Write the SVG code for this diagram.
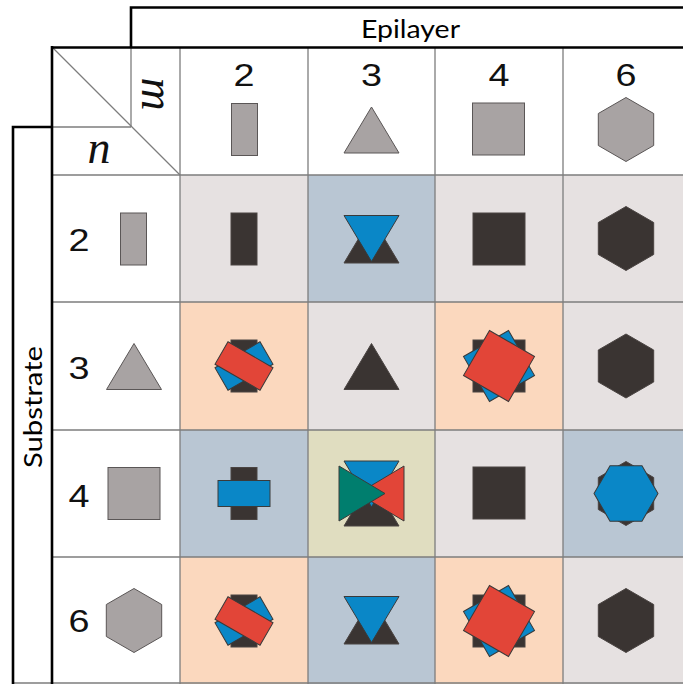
<svg xmlns="http://www.w3.org/2000/svg" xmlns:xlink="http://www.w3.org/1999/xlink" width="683" height="684" viewBox="0 0 683 684">
<style>
.thin{stroke:#7d7d7d;stroke-width:1.3;fill:none}
.thick{stroke:#000;stroke-width:2.6;fill:none}
.g{fill:#a8a3a3;stroke:#5a5656;stroke-width:1}
.d{fill:#3a3432;stroke:#4a4442;stroke-width:1}
.b{fill:#0a87c7;stroke:#3a3a3a;stroke-width:1}
.r{fill:#e24538;stroke:#3a3a3a;stroke-width:1}
.gr{fill:#007e6e;stroke:#3a3a3a;stroke-width:1}
.num{font-family:"Liberation Sans",Arial,sans-serif;font-size:32px;fill:#111;text-anchor:middle}
.lbl{font-family:Lato,"Open Sans",sans-serif;font-size:25px;fill:#000;text-anchor:middle}
.it{font-family:"Liberation Serif","Times New Roman",serif;font-style:italic;font-size:46px;fill:#111;text-anchor:middle}
.cg{fill:#e6e1e1}.cb{fill:#b9c6d3}.cp{fill:#fbd8be}.co{fill:#e0ddc0}
</style>
<defs>
<rect id="R" x="-13" y="-26" width="26" height="52"/>
<polygon id="T" points="-27.5,23 27.5,23 0,-23"/>
<rect id="S" x="-26" y="-26" width="52" height="52"/>
<polygon id="H" points="0,-32 27.7,-16 27.7,16 0,32 -27.7,16 -27.7,-16"/>
</defs>
<rect width="683" height="684" fill="#fff"/>

<g id="cell-backgrounds">
<rect class="cg" x="180" y="175" width="128" height="127"/>
<rect class="cb" x="308" y="175" width="127" height="127"/>
<rect class="cg" x="435" y="175" width="128" height="127"/>
<rect class="cg" x="563" y="175" width="120" height="127"/>
<rect class="cp" x="180" y="302" width="128" height="128"/>
<rect class="cg" x="308" y="302" width="127" height="128"/>
<rect class="cp" x="435" y="302" width="128" height="128"/>
<rect class="cg" x="563" y="302" width="120" height="128"/>
<rect class="cb" x="180" y="430" width="128" height="127"/>
<rect class="co" x="308" y="430" width="127" height="127"/>
<rect class="cg" x="435" y="430" width="128" height="127"/>
<rect class="cb" x="563" y="430" width="120" height="127"/>
<rect class="cp" x="180" y="557" width="128" height="127"/>
<rect class="cb" x="308" y="557" width="127" height="127"/>
<rect class="cp" x="435" y="557" width="128" height="127"/>
<rect class="cg" x="563" y="557" width="120" height="127"/>
</g>

<g id="connectors">
<path class="thin" d="M131,47 V127 M180,47 V684 M308,47 V684 M435,47 V684 M563,47 V684"/>
<path class="thin" d="M52,127 H131 M52,175 H683 M52,302 H683 M52,430 H683 M52,557 H683 M13,683 H683"/>
<path class="thin" d="M52,47 L180,175"/>
<path class="thick" d="M131,47 V7.5 H690"/>
<path class="thick" d="M52,47.5 H690 M52,46 V684"/>
<path class="thick" d="M52,127 H13 V684"/>
</g>

<g id="axis-epilayer"><text class="lbl" x="410.5" y="38" textLength="99" lengthAdjust="spacingAndGlyphs">Epilayer</text></g>
<g id="axis-substrate"><text class="lbl" transform="translate(42,407) rotate(-90)" x="0" y="0" textLength="122" lengthAdjust="spacingAndGlyphs">Substrate</text></g>
<g id="corner">
<text class="it" transform="translate(142,94) rotate(90)" x="0" y="0">m</text>
<text class="it" x="99" y="163">n</text>
</g>

<g id="head-2"><text class="num" x="244" y="86" textLength="21" lengthAdjust="spacingAndGlyphs">2</text><use xlink:href="#R" class="g" x="244.5" y="129.5"/></g>
<g id="head-3"><text class="num" x="371.5" y="86" textLength="21" lengthAdjust="spacingAndGlyphs">3</text><use xlink:href="#T" class="g" x="371.5" y="130"/></g>
<g id="head-4"><text class="num" x="499" y="86" textLength="21" lengthAdjust="spacingAndGlyphs">4</text><use xlink:href="#S" class="g" x="498.5" y="129"/></g>
<g id="head-6"><text class="num" x="626" y="86" textLength="21" lengthAdjust="spacingAndGlyphs">6</text><use xlink:href="#H" class="g" x="626" y="129.5"/></g>

<g id="row-2"><text class="num" x="79" y="251" textLength="21" lengthAdjust="spacingAndGlyphs">2</text><use xlink:href="#R" class="g" x="133.5" y="239"/></g>
<g id="row-3"><text class="num" x="79" y="379" textLength="21" lengthAdjust="spacingAndGlyphs">3</text><use xlink:href="#T" class="g" x="134" y="366.5"/></g>
<g id="row-4"><text class="num" x="79" y="507" textLength="21" lengthAdjust="spacingAndGlyphs">4</text><use xlink:href="#S" class="g" x="134" y="493.5"/></g>
<g id="row-6"><text class="num" x="79" y="632" textLength="21" lengthAdjust="spacingAndGlyphs">6</text><use xlink:href="#H" class="g" x="134" y="620.5"/></g>

<g id="cell-2-2"><use xlink:href="#R" class="d" x="244" y="239"/></g>
<g id="cell-2-3"><use xlink:href="#T" class="d" x="371.5" y="240"/><use xlink:href="#T" class="b" transform="translate(371.5,238.5) rotate(180)"/></g>
<g id="cell-2-4"><use xlink:href="#S" class="d" x="499" y="239"/></g>
<g id="cell-2-6"><use xlink:href="#H" class="d" x="626" y="238.5"/></g>

<g id="cell-3-2"><use xlink:href="#R" class="d" x="244" y="366"/><use xlink:href="#R" class="b" transform="translate(244,366) rotate(60)"/><use xlink:href="#R" class="r" transform="translate(244,366) rotate(-60)"/></g>
<g id="cell-3-3"><use xlink:href="#T" class="d" x="371.5" y="366.5"/></g>
<g id="cell-3-4"><use xlink:href="#S" class="d" x="499" y="366"/><use xlink:href="#S" class="b" transform="translate(499,366) rotate(-30)"/><use xlink:href="#S" class="r" transform="translate(499,366) rotate(30)"/></g>
<g id="cell-3-6"><use xlink:href="#H" class="d" x="626" y="366"/></g>

<g id="cell-4-2"><use xlink:href="#R" class="d" x="244" y="493.5"/><use xlink:href="#R" class="b" transform="translate(244,493.5) rotate(90)"/></g>
<g id="cell-4-3"><use xlink:href="#T" class="d" x="371.5" y="503"/><use xlink:href="#T" class="b" transform="translate(371.5,484) rotate(180)"/><use xlink:href="#T" class="r" transform="translate(381,493.5) rotate(-90)"/><use xlink:href="#T" class="gr" transform="translate(362,493.5) rotate(90)"/></g>
<g id="cell-4-4"><use xlink:href="#S" class="d" x="499" y="493"/></g>
<g id="cell-4-6"><use xlink:href="#H" class="d" x="626" y="493.5"/><use xlink:href="#H" class="b" transform="translate(626,493.5) rotate(30)"/></g>

<g id="cell-6-2"><use xlink:href="#R" class="d" x="244" y="621"/><use xlink:href="#R" class="b" transform="translate(244,621) rotate(60)"/><use xlink:href="#R" class="r" transform="translate(244,621) rotate(-60)"/></g>
<g id="cell-6-3"><use xlink:href="#T" class="d" x="371.5" y="621"/><use xlink:href="#T" class="b" transform="translate(371.5,619.5) rotate(180)"/></g>
<g id="cell-6-4"><use xlink:href="#S" class="d" x="499" y="621"/><use xlink:href="#S" class="b" transform="translate(499,621) rotate(-30)"/><use xlink:href="#S" class="r" transform="translate(499,621) rotate(30)"/></g>
<g id="cell-6-6"><use xlink:href="#H" class="d" x="626" y="620.5"/></g>
</svg>
